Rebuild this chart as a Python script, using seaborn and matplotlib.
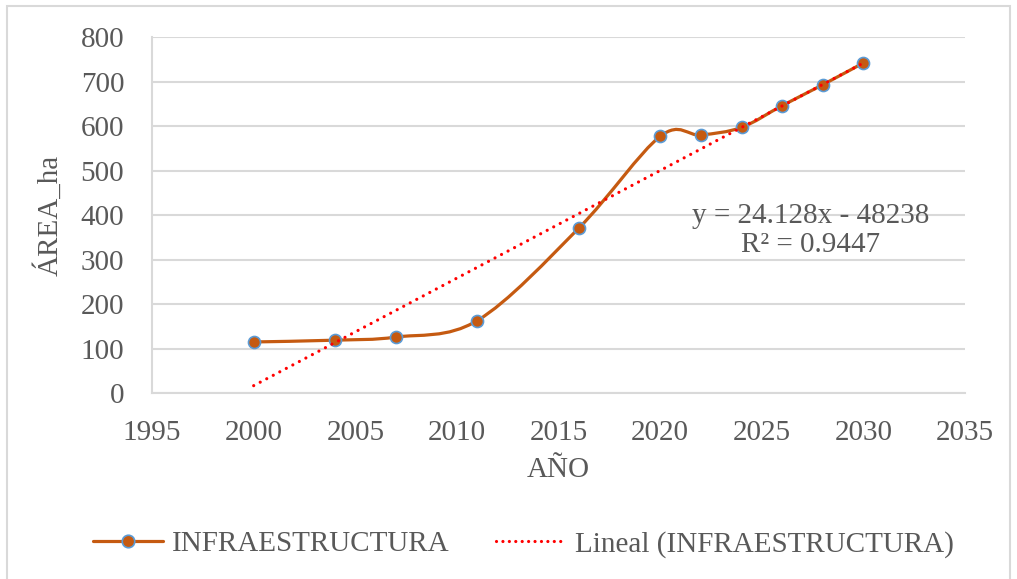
import numpy as np
import pandas as pd
import matplotlib
matplotlib.use("Agg")
import matplotlib.pyplot as plt
from matplotlib.path import Path
from matplotlib.patches import PathPatch, Rectangle
from matplotlib.lines import Line2D
import seaborn as sns

# data
years = [2000, 2004, 2007, 2011, 2016, 2020, 2022, 2024, 2026, 2028, 2030]
area = [115, 119, 126, 163, 371, 577, 580, 597, 646, 693, 742]
x_ticks = [1995, 2000, 2005, 2010, 2015, 2020, 2025, 2030, 2035]
y_ticks = [0, 100, 200, 300, 400, 500, 600, 700, 800]

series_name = "INFRAESTRUCTURA"
trend_name = "Lineal (INFRAESTRUCTURA)"
equation = "y = 24.128x - 48238\nR² = 0.9447"

df = pd.DataFrame({"year": years, "area": area})

sns.set_style("white")
plt.rcParams["font.family"] = ["Liberation Serif", "DejaVu Serif"]

line_c = "#C55A11"
edge_c = "#5B9BD5"
text_c = "#595959"
grid_c = "#D9D9D9"

fig = plt.figure(figsize=(10.17, 5.79), dpi=100)
ax = fig.add_axes([0.1495, 0.321, 0.7995, 0.615])

# excel-style smooth line (bezier through the points)
pts = df[["year", "area"]].to_numpy(dtype=float)
verts = [pts[0]]
codes = [Path.MOVETO]
n = len(pts)
for i in range(n - 1):
    p0 = pts[i - 1] if i > 0 else pts[i]
    p1 = pts[i]
    p2 = pts[i + 1]
    p3 = pts[i + 2] if i + 2 < n else pts[i + 1]
    c1 = p1 + (p2 - p0) / 6
    c2 = p2 - (p3 - p1) / 6
    verts += [c1, c2, p2]
    codes += [Path.CURVE4] * 3
ax.add_patch(PathPatch(Path(verts, codes), fill=False, edgecolor=line_c,
                       lw=2.3, capstyle="round", joinstyle="round", zorder=3))

sns.scatterplot(data=df, x="year", y="area", ax=ax, s=75, color=line_c,
                edgecolor=edge_c, linewidth=1.2, zorder=4)

# linear trendline
sns.regplot(data=df, x="year", y="area", ax=ax, scatter=False, ci=None,
            truncate=True,
            line_kws=dict(color="red", lw=2.3, linestyle=(0, (0.01, 2.3)),
                          dash_capstyle="round", zorder=5))

ax.text(2027.4, 366, equation, ha="center", va="center", fontsize=21,
        color=text_c, linespacing=1.15)

ax.set_xlim(1995, 2035)
ax.set_ylim(0, 800)
ax.set_xticks(x_ticks)
ax.set_yticks(y_ticks)
ax.tick_params(labelsize=21, colors=text_c, length=0)
ax.tick_params(axis="x", pad=19)
ax.tick_params(axis="y", pad=20)
ax.set_xlabel("AÑO", fontsize=21, color=text_c, labelpad=8)
ax.set_ylabel("ÁREA_ha", fontsize=21, color=text_c, labelpad=12)
ax.grid(axis="y", color=grid_c, lw=1.5)
ax.set_axisbelow(True)
for side in ["top", "right"]:
    ax.spines[side].set_visible(False)
for side in ["left", "bottom"]:
    ax.spines[side].set_color(grid_c)
    ax.spines[side].set_linewidth(1.5)

handles = [
    Line2D([], [], color=line_c, lw=2.3, marker="o", markersize=9,
           markerfacecolor=line_c, markeredgecolor=edge_c, markeredgewidth=1.2),
    Line2D([], [], color="red", lw=2.3, linestyle=(0, (0.01, 2.0)),
           dash_capstyle="round"),
]
fig.legend(handles, [series_name, trend_name], loc="center",
           bbox_to_anchor=(0.515, 0.06), ncol=2, frameon=False, fontsize=21,
           labelcolor=text_c, handlelength=2.4, columnspacing=1.6,
           handletextpad=0.3)

# chart border
fig.patches.append(Rectangle((0.007, -0.01), 0.986, 1.0, transform=fig.transFigure,
                             fill=False, edgecolor=grid_c, lw=1.5))

fig.savefig("out.png", dpi=100)
